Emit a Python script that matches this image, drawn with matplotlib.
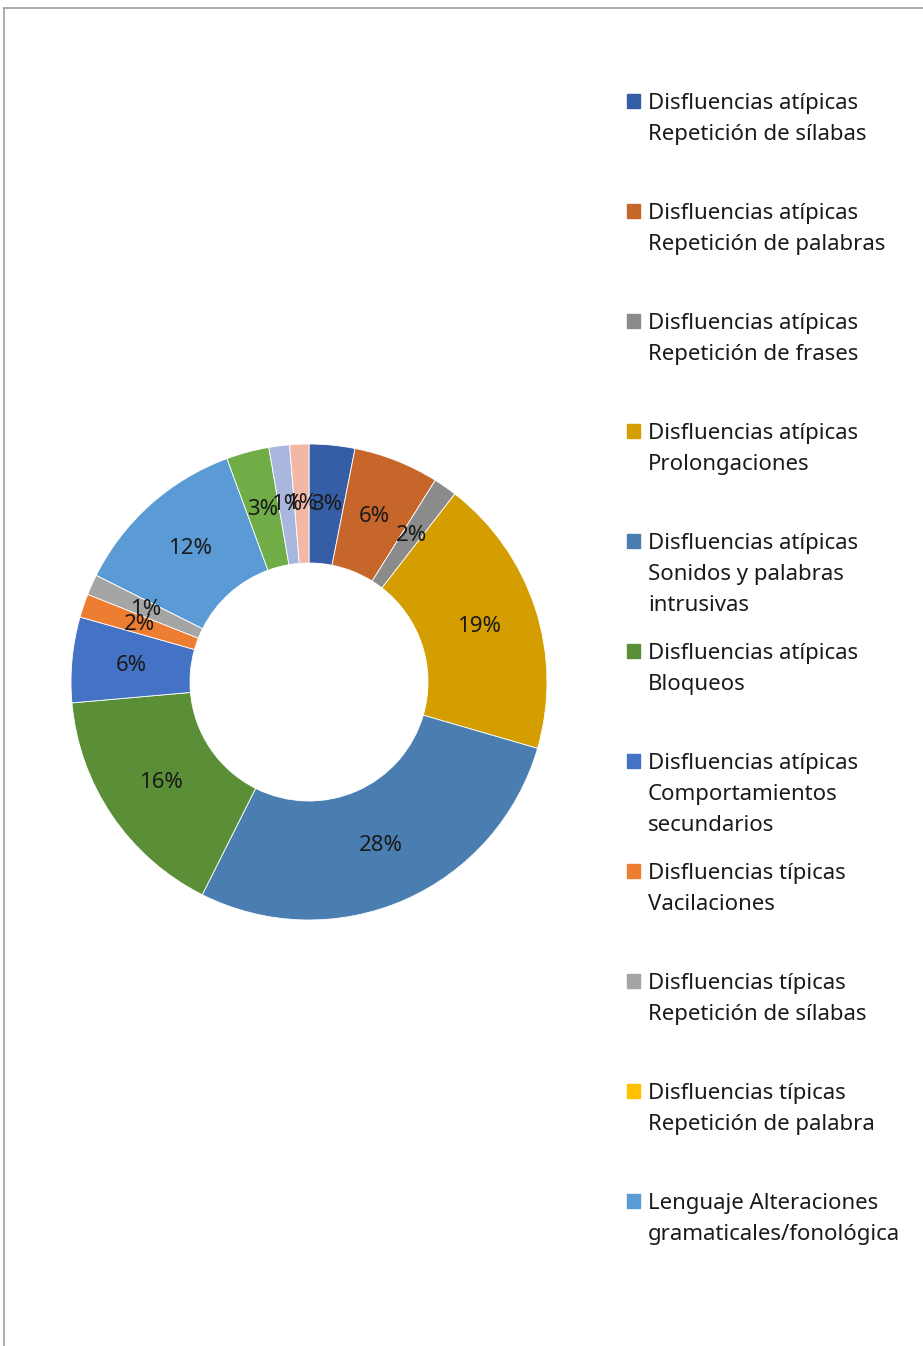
import numpy as np
import matplotlib.pyplot as plt
from matplotlib.lines import Line2D
from matplotlib.patches import Rectangle

plt.rcParams['font.family'] = ['Noto Sans', 'DejaVu Sans']

# share of each category (percent), clockwise from 12 o'clock
shares = [3.1, 5.8, 1.6, 19.0, 27.9, 16.2, 5.8, 1.6, 1.4, 0.0, 12.0, 2.9, 1.4, 1.3]
colors = ['#365EA6', '#C6662B', '#8B8B8B', '#D49E00', '#4A7EB0', '#5A8F38',
          '#4472C4', '#ED7D31', '#A5A5A5', '#FFC000', '#5B9BD5', '#70AD47',
          '#A9B7DE', '#F3B8A5']
legend_labels = [
    'Disfluencias atípicas\nRepetición de sílabas',
    'Disfluencias atípicas\nRepetición de palabras',
    'Disfluencias atípicas\nRepetición de frases',
    'Disfluencias atípicas\nProlongaciones',
    'Disfluencias atípicas\nSonidos y palabras\nintrusivas',
    'Disfluencias atípicas\nBloqueos',
    'Disfluencias atípicas\nComportamientos\nsecundarios',
    'Disfluencias típicas\nVacilaciones',
    'Disfluencias típicas\nRepetición de sílabas',
    'Disfluencias típicas\nRepetición de palabra',
    'Lenguaje Alteraciones\ngramaticales/fonológica',
]

W, H = 923, 1346
fig = plt.figure(figsize=(W / 100, H / 100), dpi=100)

# donut placed by pixel centre and radius
cx, cy, r = 309, 682, 238
ax = fig.add_axes([(cx - r) / W, (H - cy - r) / H, 2 * r / W, 2 * r / H])
wedges, _ = ax.pie(shares, colors=colors, startangle=90, counterclock=False,
                   radius=1.0, wedgeprops=dict(width=0.5, edgecolor='white', linewidth=0.6))
ax.set_aspect('equal')
ax.set_xlim(-1, 1)
ax.set_ylim(-1, 1)

# percentage labels in the middle of the ring
start = 90.0
total = sum(shares)
for v in shares:
    ang = start - v / total * 360 / 2
    start -= v / total * 360
    if v <= 0:
        continue
    x = 0.75 * np.cos(np.radians(ang))
    y = 0.75 * np.sin(np.radians(ang))
    ax.text(x, y, f'{round(v)}%', ha='center', va='center', fontsize=16, color='#1A1A1A')

# legend, one entry every 110 px
for i, lab in enumerate(legend_labels):
    ytop = 101 + i * 110
    fig.patches.append(Rectangle((627 / W, 1 - (ytop + 7) / H), 13 / W, 14 / H,
                                 transform=fig.transFigure, color=colors[i]))
    fig.text(648 / W, 1 - (ytop - 8) / H, lab, ha='left', va='top',
             fontsize=16, color='#1A1A1A', linespacing=1.63)

# frame lines on left and top
fig.add_artist(Line2D([4 / W, 4 / W], [0, 1 - 8 / H], transform=fig.transFigure,
                      color='#A0A0A0', linewidth=1.2))
fig.add_artist(Line2D([4 / W, 1], [1 - 8 / H, 1 - 8 / H], transform=fig.transFigure,
                      color='#A0A0A0', linewidth=1.2))

fig.savefig('out.png', dpi=100)
